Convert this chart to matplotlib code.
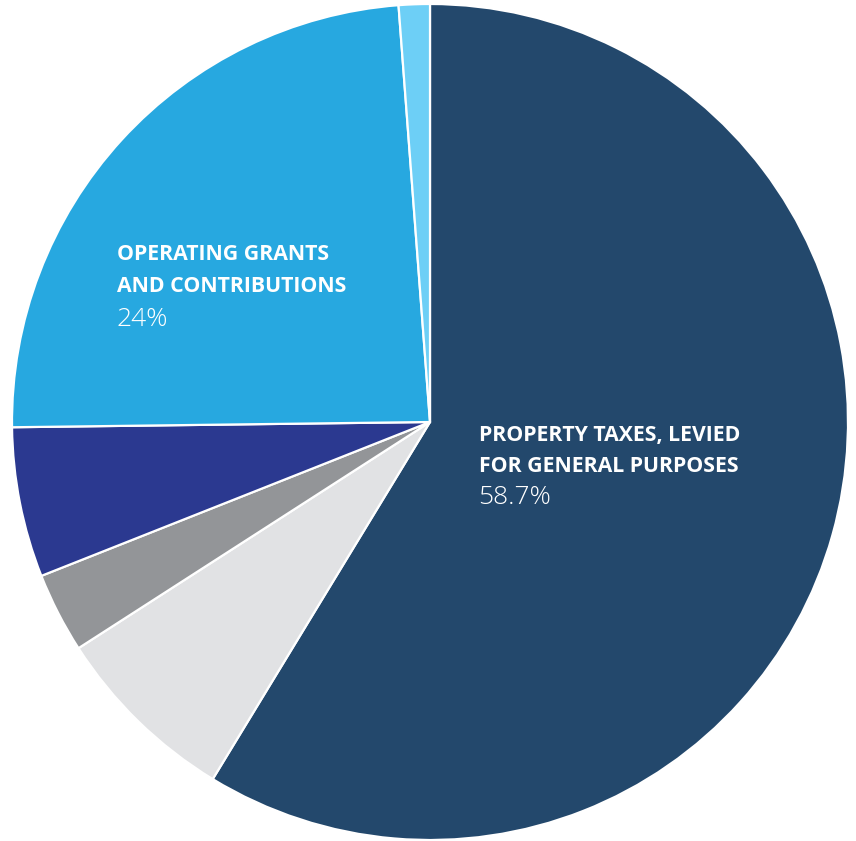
import matplotlib
matplotlib.use("Agg")
import matplotlib.pyplot as plt

categories = ["Property taxes, levied for general purposes", "Other A", "Other B",
              "Other C", "Operating grants and contributions", "Other D"]
values = [58.7, 7.2, 3.1, 5.8, 24.0, 1.2]
colors = ["#23486c", "#e1e2e4", "#939598", "#2b3990", "#27a8e0", "#6dcff6"]

W, H = 856, 841
fig = plt.figure(figsize=(W / 100, H / 100), dpi=100)
cx, cy, r = 430, 422, 418
ax = fig.add_axes([(cx - r) / W, (H - cy - r) / H, 2 * r / W, 2 * r / H])
ax.pie(values, colors=colors, startangle=90, counterclock=False, radius=1,
       wedgeprops=dict(edgecolor="white", linewidth=1.6))
ax.set_xlim(-1, 1)
ax.set_ylim(-1, 1)
ax.set_aspect("auto")
ax.axis("off")

def px(x, y):
    return (x - cx) / r, (cy - y) / r

fam = ["Open Sans", "DejaVu Sans"]
bsize = 15.3
psize = 19
x0, y0 = px(479, 436)
ax.text(x0, y0, "PROPERTY TAXES, LEVIED", color="white", fontsize=bsize,
        fontweight="bold", family=fam, va="center", ha="left")
x0, y0 = px(479, 466)
ax.text(x0, y0, "FOR GENERAL PURPOSES", color="white", fontsize=bsize,
        fontweight="bold", family=fam, va="center", ha="left")
x0, y0 = px(478, 497)
ax.text(x0, y0, "58.7%", color="white", fontsize=psize, fontweight="light",
        family=fam, va="center", ha="left")

x0, y0 = px(117, 255)
ax.text(x0, y0, "OPERATING GRANTS", color="white", fontsize=bsize,
        fontweight="bold", family=fam, va="center", ha="left")
x0, y0 = px(117, 286)
ax.text(x0, y0, "AND CONTRIBUTIONS", color="white", fontsize=bsize,
        fontweight="bold", family=fam, va="center", ha="left")
x0, y0 = px(116, 320)
ax.text(x0, y0, "24%", color="white", fontsize=psize, fontweight="light",
        family=fam, va="center", ha="left")

fig.savefig("out.png", dpi=100, facecolor="white")
